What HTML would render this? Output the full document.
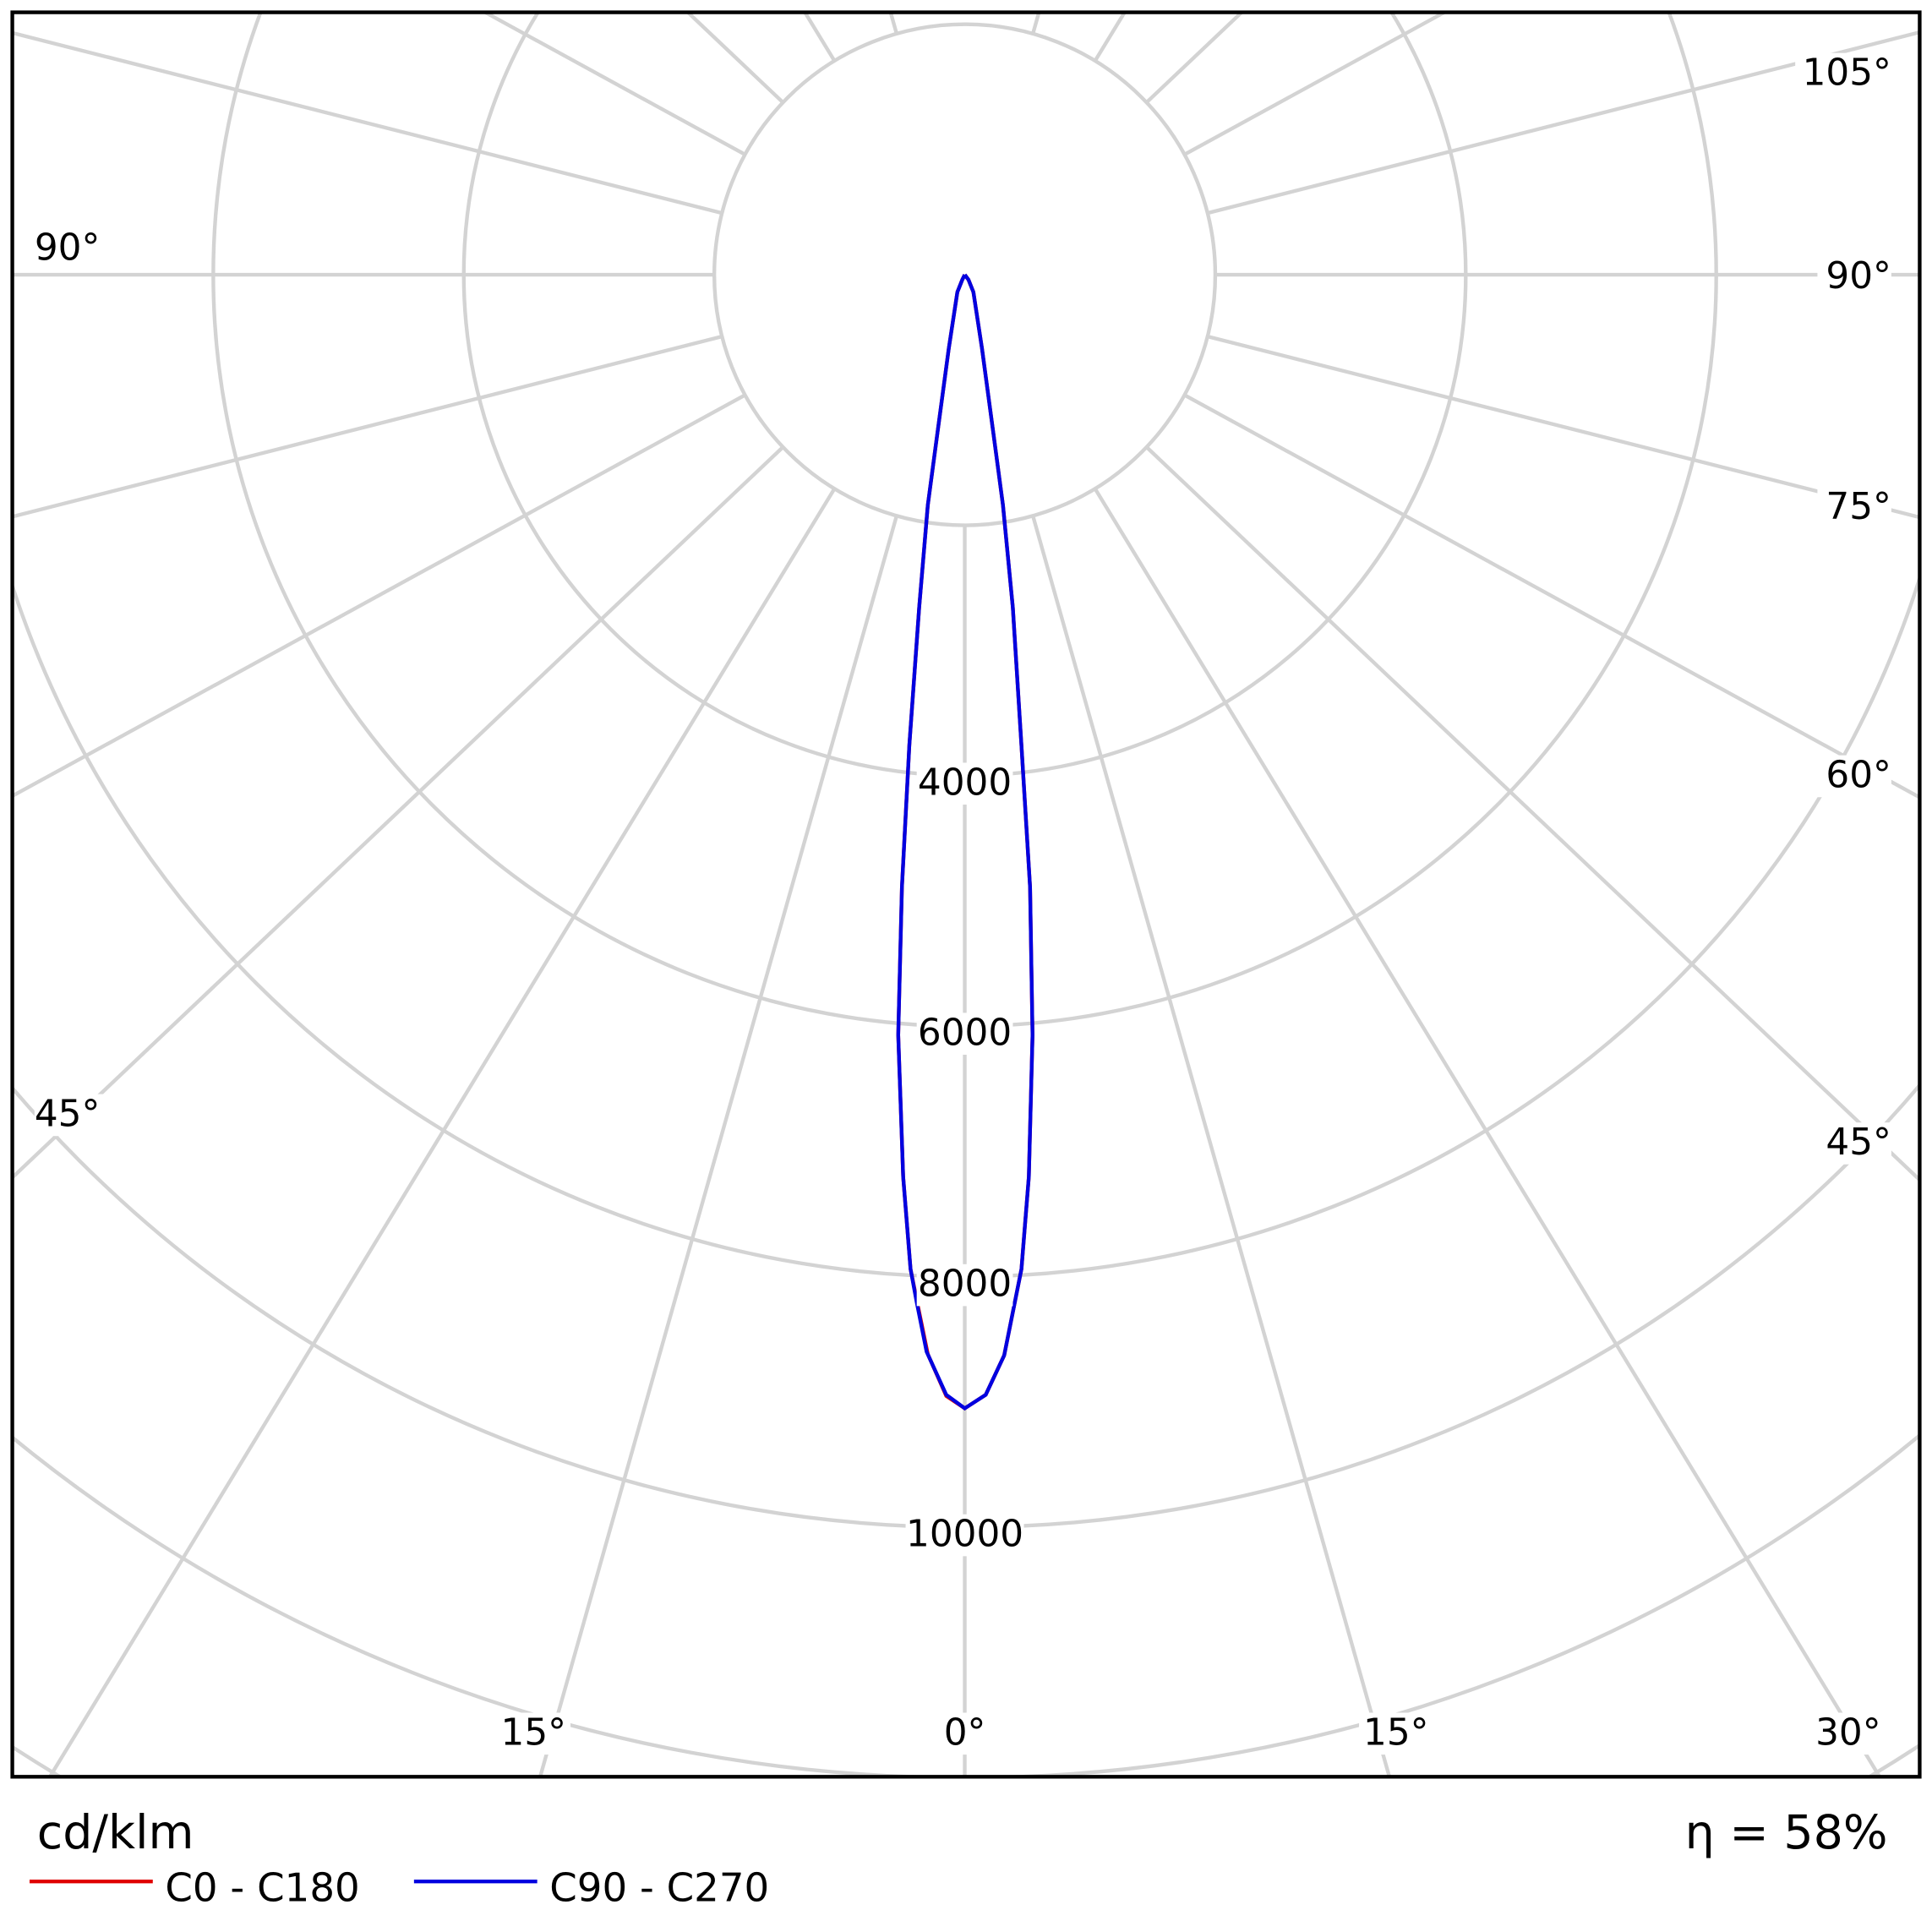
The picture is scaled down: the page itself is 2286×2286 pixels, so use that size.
<!DOCTYPE html>
<html><head><meta charset="utf-8"><style>
html,body{margin:0;padding:0;background:#fff;width:2286px;height:2286px;overflow:hidden;}
svg{display:block;}
text{font-family:"DejaVu Sans","Liberation Sans",sans-serif;fill:#000;}
</style></head><body>
<svg id="s" width="2286" height="2286" viewBox="0 0 1568 1568" xmlns="http://www.w3.org/2000/svg">
<defs><clipPath id="c"><rect x="10" y="10" width="1548" height="1432"/></clipPath></defs>
<rect width="1568" height="1568" fill="#fff"/>
<g id="grid" clip-path="url(#c)" stroke="#d3d3d3" stroke-width="3" fill="none"></g>
<g clip-path="url(#c)">
<polyline fill="none" stroke="#e00000" stroke-width="3" points="783,223 781,227 777,237 770,283 761,350 753,410 746,493 738,605 732,720 729,840 733,955 739,1030 745,1060 753,1099 768,1133 783,1143 800,1132 815,1100 822,1065 829,1030 835,955 838,840 836,720 829,605 822,493 814,410 806,350 797,283 790,237 786,227 783,223"/>
<polyline fill="none" stroke="#0000e0" stroke-width="3" points="783,223 781,227 777,237 770,283 761,350 753,410 746,493 738,605 732,720 729,840 733,955 739,1030 744,1057 752,1097 768,1132 783,1143 800,1132 815,1100 822,1065 829,1030 835,955 838,840 836,720 829,605 822,493 814,410 806,350 797,283 790,237 786,227 783,223"/>
</g>
<g id="lab" font-size="30"></g>
<rect x="10" y="10" width="1548" height="1432" fill="none" stroke="#000" stroke-width="3"/>
<text x="30" y="1500" font-size="38">cd/klm</text>
<text x="1532" y="1500" font-size="38" text-anchor="end">η = 58%</text>
<line x1="24" y1="1527" x2="124" y2="1527" stroke="#e00000" stroke-width="3"/>
<text x="134" y="1543" font-size="32">C0 - C180</text>
<line x1="336" y1="1527" x2="436" y2="1527" stroke="#0000e0" stroke-width="3"/>
<text x="446" y="1543" font-size="32">C90 - C270</text>
</svg>
<script>
var ns="http://www.w3.org/2000/svg",cx=783,cy=223,g=document.getElementById('grid'),L=document.getElementById('lab');
function el(p,t,a){var e=document.createElementNS(ns,t);for(var k in a)e.setAttribute(k,a[k]);p.appendChild(e);return e;}
for(var i=1;i<=9;i++)el(g,'circle',{cx:cx,cy:cy,r:203.3*i});
for(var d=-165;d<=165;d+=15){var t=d*Math.PI/180,s=Math.sin(t)*1.055,c=Math.cos(t);var n=Math.sqrt(s*s+c*c);s/=n;c/=n;
el(g,'line',{x1:cx+203.3*s,y1:cy+203.3*c,x2:cx+2500*s,y2:cy+2500*c});}
function lab(x,y,txt,anchor){var w=txt.length*18+6;var x0=anchor=='middle'?x-w/2:(anchor=='end'?x-w:x);
el(L,'rect',{x:x0,y:y-26,width:w,height:34,fill:'#fff'});
var e=el(L,'text',{x:x,y:y,'text-anchor':anchor});e.textContent=txt;}
lab(783,645,'4000','middle');lab(783,848,'6000','middle');lab(783,1052,'8000','middle');lab(783,1255,'10000','middle');
lab(1535,69,'105°','end');lab(1535,234,'90°','end');lab(1535,421,'75°','end');lab(1535,639,'60°','end');lab(1535,937,'45°','end');
lab(28,211,'90°','start');lab(28,914,'45°','start');
lab(1500,1416,'30°','middle');lab(433,1416,'15°','middle');lab(783,1416,'0°','middle');lab(1133,1416,'15°','middle');
</script>
</body></html>
